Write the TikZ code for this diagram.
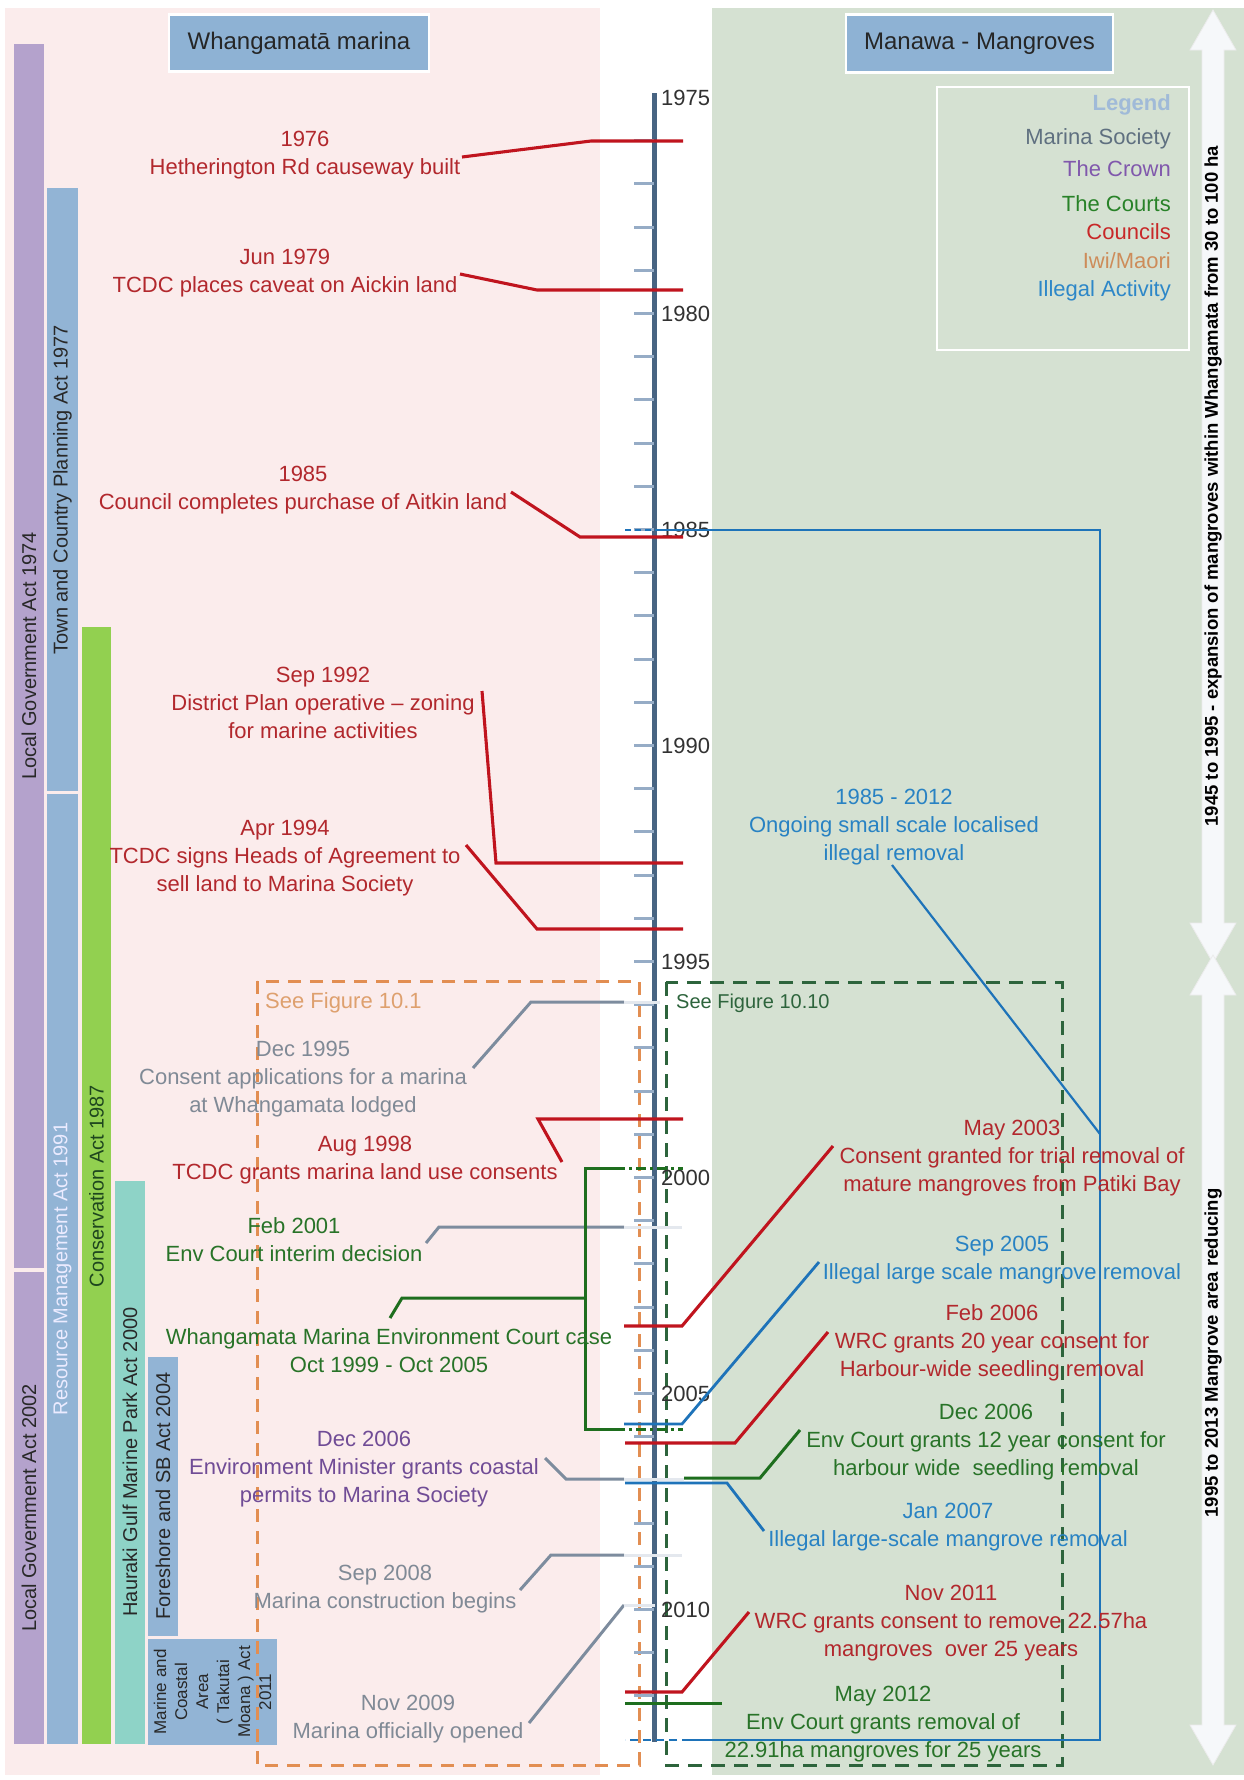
\documentclass[tikz,border=0pt]{standalone}
\usepackage{fontspec}
\setmainfont{Liberation Sans}
\definecolor{cPink}{RGB}{251,236,236}
\definecolor{cGreenBg}{RGB}{213,225,210}
\definecolor{cTitle}{RGB}{142,178,212}
\definecolor{cPurpleBar}{RGB}{180,162,204}
\definecolor{cBlueBar}{RGB}{146,180,213}
\definecolor{cGreenBar}{RGB}{146,208,80}
\definecolor{cTealBar}{RGB}{142,211,199}
\definecolor{cAxis}{RGB}{72,100,130}
\definecolor{cTick}{RGB}{150,172,198}
\definecolor{cRedT}{RGB}{178,40,45}
\definecolor{cRedL}{RGB}{192,20,30}
\definecolor{cGrayT}{RGB}{128,138,150}
\definecolor{cGrayL}{RGB}{125,140,158}
\definecolor{cLight}{RGB}{228,232,238}
\definecolor{cGreenT}{RGB}{40,115,40}
\definecolor{cGreenL}{RGB}{30,110,30}
\definecolor{cPurpT}{RGB}{112,76,150}
\definecolor{cBlueT}{RGB}{40,130,195}
\definecolor{cBlueL}{RGB}{30,115,185}
\definecolor{cOrange}{RGB}{226,142,82}
\definecolor{cOrangeT}{RGB}{222,160,110}
\definecolor{cGreenDash}{RGB}{45,100,60}
\definecolor{cLegend}{RGB}{160,186,216}
\definecolor{cLegMS}{RGB}{95,112,128}
\definecolor{cLegCrown}{RGB}{128,88,172}
\definecolor{cLegCourts}{RGB}{40,130,40}
\definecolor{cLegCouncil}{RGB}{200,40,40}
\definecolor{cLegIwi}{RGB}{205,140,90}
\definecolor{cLegIll}{RGB}{45,135,200}
\definecolor{cYear}{RGB}{50,50,50}
\definecolor{cBarTxt}{RGB}{40,40,40}
\definecolor{cConsT}{RGB}{30,70,30}
\definecolor{cArrow}{RGB}{246,248,250}
\newcommand\fsEv{\fontsize{22}{28}\selectfont}
\newcommand\fsTitle{\fontsize{24}{28}\selectfont}
\newcommand\fsBar{\fontsize{20}{24}\selectfont}
\newcommand\fsSmall{\fontsize{17}{21}\selectfont}
\newcommand\fsArr{\fontsize{18.5}{22}\selectfont\bfseries}
\newcommand\fsFig{\fontsize{20}{24}\selectfont}
\tikzset{
  evtext/.style={align=center, font=\fsEv, inner sep=0pt},
  redln/.style={draw=cRedL, line width=3.1pt},
  grayln/.style={draw=cGrayL, line width=3pt},
  lightln/.style={draw=cLight, line width=3pt},
  greenln/.style={draw=cGreenL, line width=3pt},
  blueln/.style={draw=cBlueL, line width=2.8pt},
  ticky/.style={draw=cTick, line width=3pt},
  axisln/.style={draw=cAxis, line width=5pt},
  yearlbl/.style={font=\fsEv, text=cYear, inner sep=0pt, anchor=west},
  bartxt/.style={font=\fsBar, text=cBarTxt, rotate=90, inner sep=0pt},
  legtxt/.style={font=\fsEv, inner sep=0pt, anchor=east},
  titlebox/.style={fill=cTitle, draw=white, line width=2.5pt, font=\fsTitle, text=black!85},
  arrtxt/.style={font=\fsArr, text=black, rotate=90, inner sep=0pt},
  arrowshape/.style={fill=cArrow, draw=white!85!gray, line width=0.8pt}
}
\begin{document}
\begin{tikzpicture}[x=1pt,y=-1pt]
\useasboundingbox (0,0) rectangle (1244,1780);
\fill[white] (0,0) rectangle (1244,1780);
% backgrounds
\fill[cPink] (5,8) rectangle (600,1775);
\fill[cGreenBg] (712,8) rectangle (1244,1775);

% title boxes
\node[titlebox, minimum width=260pt, minimum height=57pt] (t1) at (299,43) {Whangamatā marina};
\node[titlebox, minimum width=267pt, minimum height=58pt] (t2) at (979.5,43.5) {Manawa - Mangroves};

% legend
\node[draw=white, line width=2.5pt, minimum width=252pt, minimum height=263pt, inner sep=0pt] (leg) at (1063,218.5) {};
\node[legtxt, text=cLegend, font=\fsEv\bfseries] (lg0) at (1171,105) {Legend};
\node[legtxt, text=cLegMS] (lg1) at (1171,139) {Marina Society};
\node[legtxt, text=cLegCrown] (lg2) at (1171,169) {The Crown};
\node[legtxt, text=cLegCourts] (lg3) at (1171,204) {The Courts};
\node[legtxt, text=cLegCouncil] (lg4) at (1171,232) {Councils};
\node[legtxt, text=cLegIwi] (lg5) at (1171,261) {Iwi/Maori};
\node[legtxt, text=cLegIll] (lg6) at (1171,291) {Illegal Activity};

% right arrows
\path[arrowshape] (1213,10) -- (1236,50) -- (1224,50) -- (1224,923) -- (1236,923) -- (1213,963)
  -- (1190,923) -- (1202,923) -- (1202,50) -- (1190,50) -- cycle;
\path[arrowshape] (1213,955) -- (1236,995) -- (1224,995) -- (1224,1725) -- (1236,1725) -- (1213,1765)
  -- (1190,1725) -- (1202,1725) -- (1202,995) -- (1190,995) -- cycle;
\node[arrtxt] (a1t) at (1213,486) {1945 to 1995 - expansion of mangroves within Whangamata from 30 to 100 ha};
\node[arrtxt] (a2t) at (1213,1353) {1995 to 2013 Mangrove area reducing};

% left act bars
\fill[cPurpleBar] (14,44) rectangle (44,1268);
\fill[cPurpleBar] (14,1272) rectangle (44,1744);
\fill[cBlueBar] (47,188) rectangle (78,791);
\fill[cBlueBar] (47,794) rectangle (78,1744);
\fill[cGreenBar] (82,627) rectangle (111,1744);
\fill[cTealBar] (115,1181) rectangle (145,1744);
\fill[cBlueBar] (148,1357) rectangle (178,1636);
\fill[cBlueBar] (148,1639) rectangle (277,1745);
\node[bartxt] (b1) at (29,656) {Local Government Act 1974};
\node[bartxt] (b2) at (29,1508) {Local Government Act 2002};
\node[bartxt] (b3) at (62.5,490) {Town and Country Planning Act 1977};
\node[bartxt, text=white!92!blue] (b4) at (62.5,1269) {Resource Management Act 1991};
\node[bartxt, text=cConsT] (b5) at (96.5,1186) {Conservation Act 1987};
\node[bartxt] (b6) at (130,1462) {Hauraki Gulf Marine Park Act 2000};
\node[bartxt] (b7) at (163,1496) {Foreshore and SB Act 2004};
\node[bartxt, font=\fsSmall, align=center] (b8) at (212.5,1692) {Marine and\\Coastal\\Area\\( Takutai\\Moana ) Act\\2011};

% dashed figure boxes
\draw[cOrange, line width=3pt, dash pattern=on 13pt off 9pt] (257,981) rectangle (639,1765);
\draw[cGreenDash, line width=3pt, dash pattern=on 14pt off 9pt] (666,982) rectangle (1062,1765);
\node[font=\fsEv, text=cOrangeT, anchor=west, inner sep=0pt] (f1) at (265,1003) {See Figure 10.1};
\node[font=\fsFig, text=cGreenDash, anchor=west, inner sep=0pt] (f2) at (676,1003) {See Figure 10.10};

% axis and ticks
\draw[axisln] (654,93) coordinate (axtop) -- (654,1742) coordinate (axbot);
\foreach \k in {1,...,37} \draw[ticky] (634,{97.5+43.2*\k}) -- (654,{97.5+43.2*\k});
\foreach \yr [count=\i from 0] in {1975,1980,1985,1990,1995,2000,2005,2010}
  \node[yearlbl] (y\yr) at (661,{97.5+216*\i}) {\yr};

% illegal bracket
\draw[blueln, dash pattern=on 6pt off 4pt] (625,530) coordinate (ib1) -- (660,530) coordinate (ib2);
\draw[blueln, line width=2.2pt] (ib2) -- (1100,530) coordinate (ib3) -- (1100,1740) coordinate (ib4) -- (690,1740) coordinate (ib5);
\draw[blueln, line width=2.2pt, dash pattern=on 8pt off 5pt] (ib5) -- (625,1740) coordinate (ib6);
\draw[blueln, line width=2.2pt] (892,865) coordinate (id1) -- (1100,1134) coordinate (id2);

% council connectors
\draw[redln] (462,157) coordinate (c1a) -- (591,141) coordinate (c1b) -- (683,141) coordinate (c1c);
\draw[redln] (460,274) coordinate (c2a) -- (537,290) coordinate (c2b) -- (683,290) coordinate (c2c);
\draw[redln] (511,492) coordinate (c3a) -- (580,537) coordinate (c3b) -- (683,537) coordinate (c3c);
\draw[redln] (482,691) coordinate (c4a) -- (496,863) coordinate (c4b) -- (683,863) coordinate (c4c);
\draw[redln] (466,845) coordinate (c5a) -- (537,929) coordinate (c5b) -- (683,929) coordinate (c5c);
\draw[redln] (562,1162) coordinate (c6a) -- (538,1119) coordinate (c6b) -- (683,1119) coordinate (c6c);
\draw[redln] (833,1146) coordinate (c7a) -- (682,1326) coordinate (c7b) -- (624,1326) coordinate (c7c);
\draw[redln] (828,1332) coordinate (c8a) -- (735,1443) coordinate (c8b) -- (625,1443) coordinate (c8c);
\draw[redln] (749,1612) coordinate (c9a) -- (682,1692) coordinate (c9b) -- (625,1692) coordinate (c9c);

% marina society / crown connectors
\draw[grayln] (473,1068) coordinate (g1a) -- (531,1002) coordinate (g1b) -- (624,1002) coordinate (g1c);
\draw[lightln] (g1c) -- (660,1002);
\draw[grayln] (426,1243) coordinate (g2a) -- (439,1227) coordinate (g2b) -- (624,1227) coordinate (g2c);
\draw[lightln] (g2c) -- (682,1227);
\draw[grayln] (545,1458) coordinate (g3a) -- (566,1479) coordinate (g3b) -- (624,1479) coordinate (g3c);
\draw[lightln] (g3c) -- (684,1479);
\draw[grayln] (520,1590) coordinate (g4a) -- (551,1555) coordinate (g4b) -- (624,1555) coordinate (g4c);
\draw[lightln] (g4c) -- (682,1555);
\draw[grayln] (529,1723) coordinate (g5a) -- (624,1605) coordinate (g5b);
\draw[lightln] (g5b) -- (655,1605);

% courts connectors
\draw[greenln] (390,1318) coordinate (k1a) -- (402,1298) coordinate (k1b) -- (585,1298) coordinate (k1c);
\draw[greenln] (615,1168) coordinate (k2a) -- (585,1168) coordinate (k2b) -- (585,1429) coordinate (k2c) -- (615,1429) coordinate (k2d);
\draw[greenln, dash pattern=on 10pt off 4pt on 3pt off 4pt] (k2a) -- (683,1168);
\draw[greenln, dash pattern=on 10pt off 4pt on 3pt off 4pt] (k2d) -- (683,1429);
\draw[greenln] (800,1430) coordinate (k3a) -- (760,1478) coordinate (k3b) -- (684,1478) coordinate (k3c);
\draw[greenln] (625,1703) coordinate (k4a) -- (722,1703) coordinate (k4b);

% illegal connectors
\draw[blueln] (819,1262) coordinate (l1a) -- (682,1424) coordinate (l1b) -- (624,1424) coordinate (l1c);
\draw[blueln] (764,1531) coordinate (l2a) -- (727,1483) coordinate (l2b) -- (625,1483) coordinate (l2c);

% event texts left
\node[evtext, text=cRedT] (e1) at (305,155) {1976\\Hetherington Rd causeway built};
\node[evtext, text=cRedT] (e2) at (285,273) {Jun 1979\\TCDC places caveat on Aickin land};
\node[evtext, text=cRedT] (e3) at (303,490) {1985\\Council completes purchase of Aitkin land};
\node[evtext, text=cRedT] (e4) at (323,703) {Sep 1992\\District Plan operative – zoning\\for marine activities};
\node[evtext, text=cRedT] (e5) at (285,858) {Apr 1994\\TCDC signs Heads of Agreement to\\sell land to Marina Society};
\node[evtext, text=cGrayT] (e6) at (303,1079) {Dec 1995\\Consent applications for a marina\\at Whangamata lodged};
\node[evtext, text=cRedT] (e7) at (365,1160) {Aug 1998\\TCDC grants marina land use consents};
\node[evtext, text=cGreenT] (e8) at (294,1240) {Feb 2001\\Env Court interim decision};
\node[evtext, text=cGreenT] (e9) at (389,1351) {Whangamata Marina Environment Court case\\Oct 1999 - Oct 2005};
\node[evtext, text=cPurpT] (e10) at (364,1469) {Dec 2006\\Environment Minister grants coastal\\permits to Marina Society};
\node[evtext, text=cGrayT] (e11) at (385,1589) {Sep 2008\\Marina construction begins};
\node[evtext, text=cGrayT] (e12) at (408,1719) {Nov 2009\\Marina officially opened};

% event texts right
\node[evtext, text=cBlueT] (r1) at (894,827) {1985 - 2012\\Ongoing small scale localised\\illegal removal};
\node[evtext, text=cRedT] (r2) at (1012,1158) {May 2003\\Consent granted for trial removal of\\mature mangroves from Patiki Bay};
\node[evtext, text=cBlueT] (r3) at (1002,1260) {Sep 2005\\Illegal large scale mangrove removal};
\node[evtext, text=cRedT] (r4) at (992,1343) {Feb 2006\\WRC grants 20 year consent for\\Harbour-wide seedling removal};
\node[evtext, text=cGreenT] (r5) at (986,1442) {Dec 2006\\Env Court grants 12 year consent for\\harbour wide~ seedling removal};
\node[evtext, text=cBlueT] (r6) at (948,1527) {Jan 2007\\Illegal large-scale mangrove removal};
\node[evtext, text=cRedT] (r7) at (951,1623) {Nov 2011\\WRC grants consent to remove 22.57ha\\mangroves~ over 25 years};
\node[evtext, text=cGreenT] (r8) at (883,1724) {May 2012\\Env Court grants removal of\\22.91ha mangroves for 25 years};
\end{tikzpicture}
\end{document}
